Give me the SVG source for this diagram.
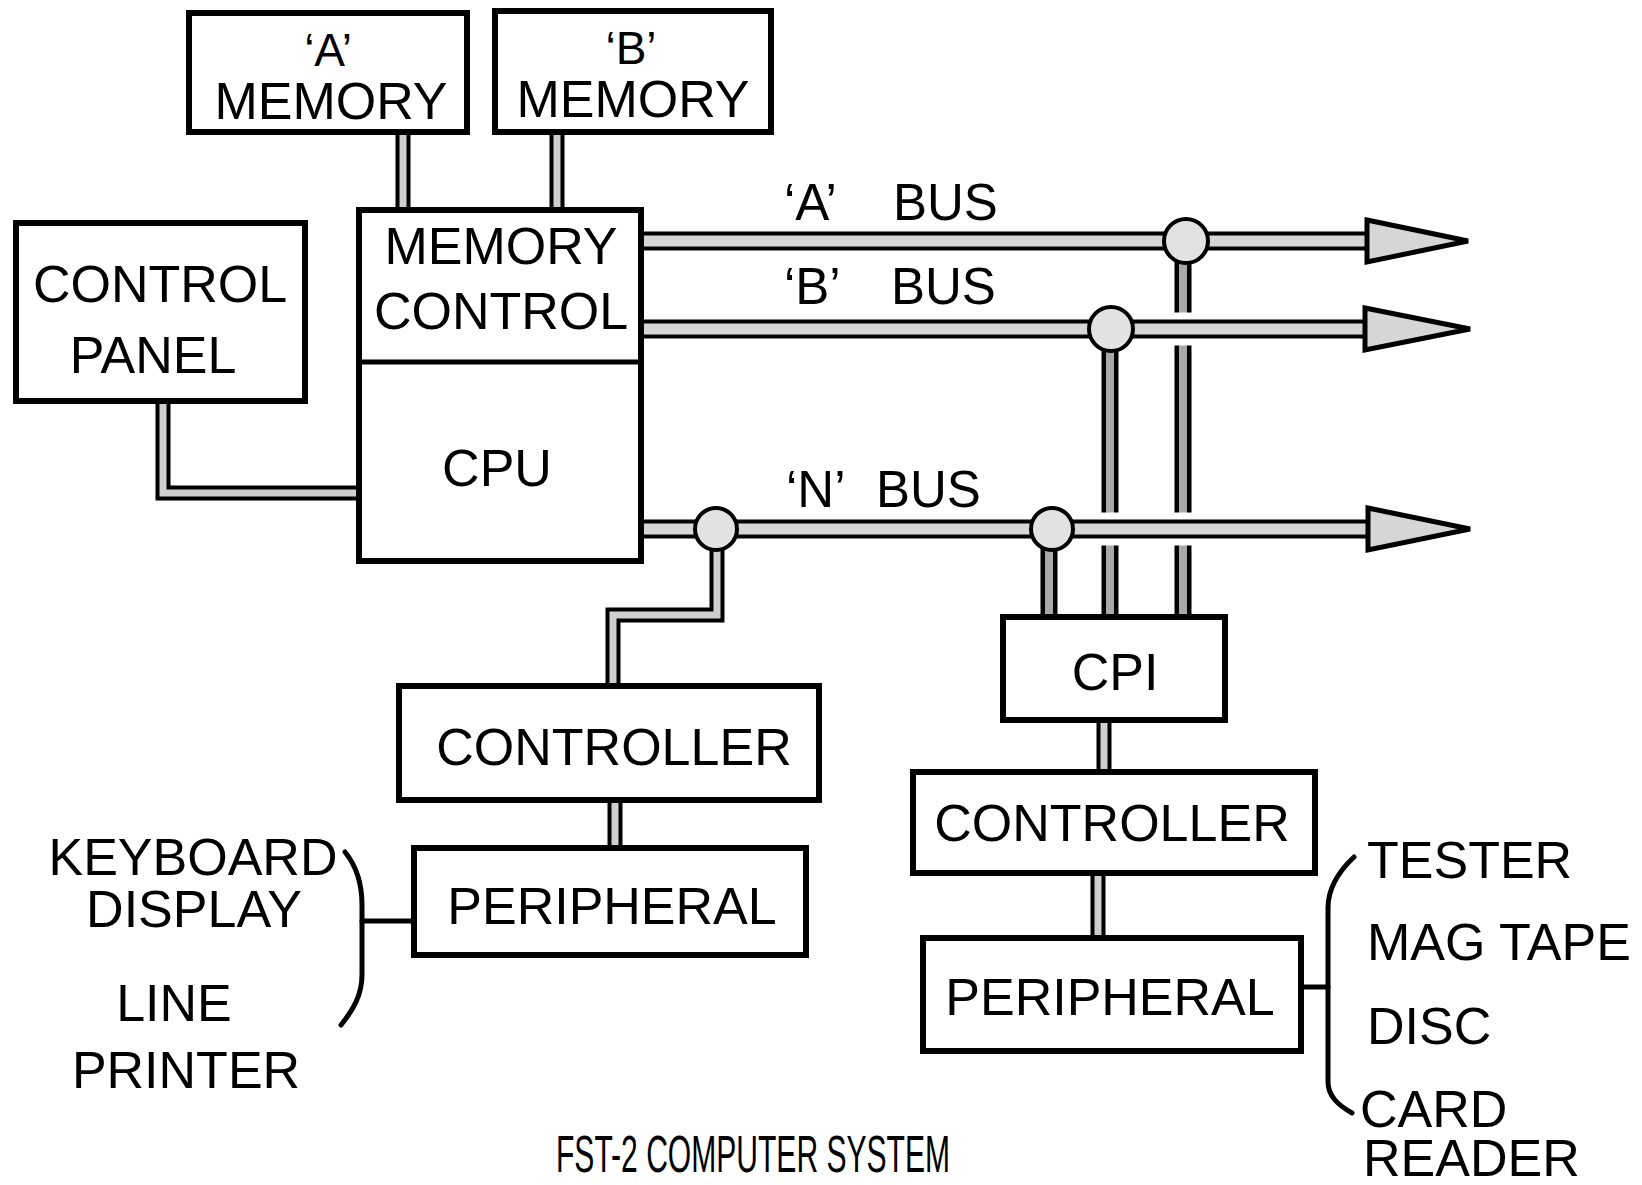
<svg xmlns="http://www.w3.org/2000/svg" xmlns:xlink="http://www.w3.org/1999/xlink" width="1642" height="1185" viewBox="0 0 1642 1185">
<style>
  .box{fill:#fff;stroke:#000;stroke-width:6}
  .div{stroke:#000;stroke-width:5}
  .t{font-family:"Liberation Sans",Arial,Helvetica,sans-serif;font-size:52px;fill:#000;text-anchor:middle}
  .ts{font-family:"Liberation Sans",Arial,Helvetica,sans-serif;font-size:52px;fill:#000;text-anchor:start}
  .q{font-size:46px}
  .bl{font-family:"Liberation Sans",Arial,Helvetica,sans-serif;font-size:51px;fill:#000}
  .title{font-family:"Liberation Sans",Arial,Helvetica,sans-serif;font-size:52px;fill:#000}
  .bo{fill:none;stroke:#000;stroke-width:19}
  .bi{fill:none;stroke:#d6d6d6;stroke-width:11}
  .halo{fill:none;stroke:#fff;stroke-width:33}
  .vo{fill:none;stroke:#000;stroke-width:17}
  .vi{fill:none;stroke:#a8a8a8;stroke-width:8}
  .so{fill:none;stroke:#000;stroke-width:15;stroke-linejoin:miter}
  .si{fill:none;stroke:#cfcfcf;stroke-width:7;stroke-linejoin:miter}
  .jn{fill:#e2e2e2;stroke:#000;stroke-width:4}
  .ah{fill:#d6d6d6;stroke:#000;stroke-width:5;stroke-linejoin:miter}
  .ln{fill:none;stroke:#000;stroke-width:5;stroke-linecap:round}
</style>
<defs>
  <path id="pA" d="M644,241 H1370"/>
  <path id="pB" d="M644,329 H1368"/>
  <path id="pN" d="M644,529 H1370"/>
  <path id="dA" d="M1183,255 V617"/>
  <path id="dB" d="M1110,340 V617"/>
  <path id="dN2" d="M1049,540 V617"/>
  <path id="dN1" d="M717,540 V615 H613 V686"/>
  <path id="c1" d="M403,132 V210"/>
  <path id="c2" d="M557,132 V210"/>
  <path id="c3" d="M163,401 V493 H359"/>
  <path id="c4" d="M615,800 V848"/>
  <path id="c5" d="M1104,720 V772"/>
  <path id="c6" d="M1098,873 V938"/>
</defs>

<g id="connectors">
  <use href="#dA" class="vo"/><use href="#dA" class="vi"/>
  <use href="#dB" class="vo"/><use href="#dB" class="vi"/>
  <use href="#dN2" class="vo"/><use href="#dN2" class="vi"/>
  <use href="#dN1" class="so"/><use href="#dN1" class="si"/>
  <use href="#c1" class="so"/><use href="#c1" class="si"/>
  <use href="#c2" class="so"/><use href="#c2" class="si"/>
  <use href="#c3" class="so"/><use href="#c3" class="si"/>
  <use href="#c4" class="so"/><use href="#c4" class="si"/>
  <use href="#c5" class="so"/><use href="#c5" class="si"/>
  <use href="#c6" class="so"/><use href="#c6" class="si"/>
  <use href="#pA" class="halo"/><use href="#pB" class="halo"/><use href="#pN" class="halo"/>
  <use href="#pA" class="bo"/><use href="#pA" class="bi"/>
  <use href="#pB" class="bo"/><use href="#pB" class="bi"/>
  <use href="#pN" class="bo"/><use href="#pN" class="bi"/>
  <circle class="jn" cx="1186" cy="241" r="22"/>
  <circle class="jn" cx="1111" cy="329" r="22"/>
  <circle class="jn" cx="716" cy="529" r="21"/>
  <circle class="jn" cx="1052" cy="529" r="21"/>
  <polygon class="ah" points="1367,220 1468,241 1367,262"/>
  <polygon class="ah" points="1365,308 1470,329 1365,350"/>
  <polygon class="ah" points="1368,508 1470,529 1368,550"/>
  <line class="ln" x1="362" y1="921" x2="412" y2="921"/>
  <path class="ln" d="M345,852 C358,868 362,885 362,905 L362,975 C362,995 353,1010 341,1025"/>
  <line class="ln" x1="1303" y1="987" x2="1328" y2="987"/>
  <path class="ln" d="M1354,857 C1338,872 1328,888 1328,908 L1328,1082 C1328,1096 1338,1105 1352,1113"/>
</g>

<g id="a-memory">
  <rect class="box" x="189" y="13" width="278" height="119"/>
  <text class="t q" x="328" y="66">‘A’</text>
  <text class="t" x="331" y="119">MEMORY</text>
</g>
<g id="b-memory">
  <rect class="box" x="495" y="11" width="276" height="121"/>
  <text class="t q" x="631" y="64">‘B’</text>
  <text class="t" x="633" y="117">MEMORY</text>
</g>
<g id="control-panel">
  <rect class="box" x="16" y="223" width="289" height="178"/>
  <text class="t" x="160" y="302">CONTROL</text>
  <text class="t" x="153" y="373">PANEL</text>
</g>
<g id="memory-control-cpu">
  <rect class="box" x="359" y="210" width="282" height="351"/>
  <line class="div" x1="362" y1="362" x2="641" y2="362"/>
  <text class="t" x="501" y="264">MEMORY</text>
  <text class="t" x="501" y="329">CONTROL</text>
  <text class="t" x="497" y="486">CPU</text>
</g>
<g id="controller-left">
  <rect class="box" x="399" y="686" width="420" height="114"/>
  <text class="t" x="614" y="765">CONTROLLER</text>
</g>
<g id="peripheral-left">
  <rect class="box" x="414" y="848" width="392" height="107"/>
  <text class="t" x="612" y="924">PERIPHERAL</text>
</g>
<g id="cpi">
  <rect class="box" x="1003" y="617" width="222" height="103"/>
  <text class="t" x="1115" y="690">CPI</text>
</g>
<g id="controller-right">
  <rect class="box" x="913" y="772" width="402" height="101"/>
  <text class="t" x="1112" y="841">CONTROLLER</text>
</g>
<g id="peripheral-right">
  <rect class="box" x="923" y="938" width="378" height="113"/>
  <text class="t" x="1110" y="1015">PERIPHERAL</text>
</g>

<g id="bus-labels">
  <text class="bl" x="784" y="220">‘A’ <tspan x="893">BUS</tspan></text>
  <text class="bl" x="784" y="304">‘B’ <tspan x="891">BUS</tspan></text>
  <text class="bl" x="786" y="507">‘N’ <tspan x="876">BUS</tspan></text>
</g>

<g id="left-devices">
  <text class="t" x="193" y="875">KEYBOARD</text>
  <text class="t" x="194" y="927">DISPLAY</text>
  <text class="t" x="174" y="1021">LINE</text>
  <text class="t" x="186" y="1088">PRINTER</text>
</g>

<g id="right-devices">
  <text class="ts" x="1367" y="878">TESTER</text>
  <text class="ts" x="1367" y="960">MAG TAPE</text>
  <text class="ts" x="1367" y="1044">DISC</text>
  <text class="ts" x="1360" y="1127">CARD</text>
  <text class="ts" x="1363" y="1176">READER</text>
</g>

<g id="title">
  <text class="title" x="556" y="1172" textLength="394" lengthAdjust="spacingAndGlyphs">FST-2 COMPUTER SYSTEM</text>
</g>
</svg>
